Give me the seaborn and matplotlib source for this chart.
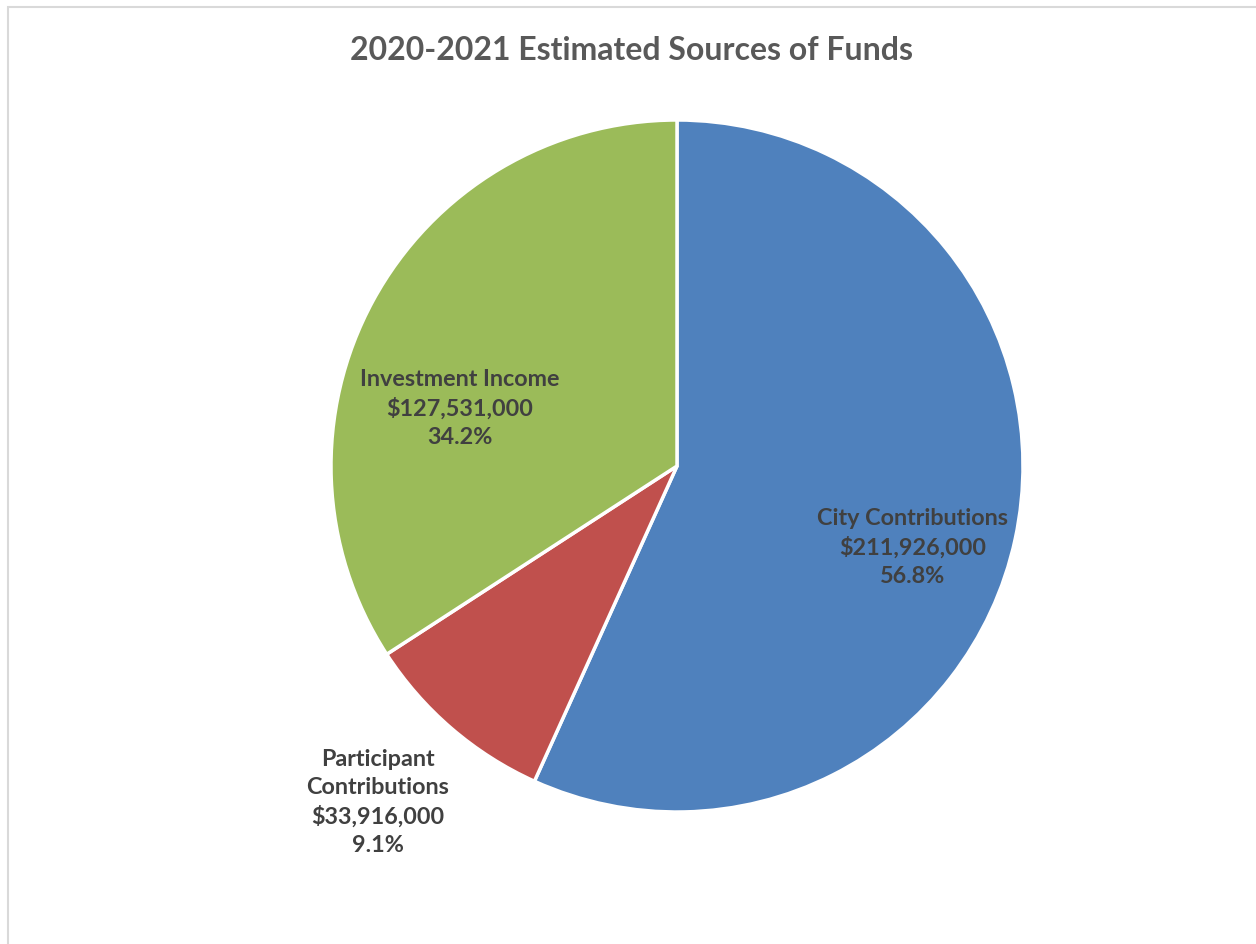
import matplotlib
matplotlib.use("Agg")
import matplotlib.pyplot as plt
from matplotlib.patches import Rectangle
import seaborn as sns

# Sources of funds, 2020-2021 estimate
sources = ["City Contributions", "Participant\nContributions", "Investment Income"]
amounts = [211926000, 33916000, 127531000]
shares = [56.8, 9.1, 34.2]
colors = ["#4F81BD", "#C0504D", "#9BBB59"]

sns.set_theme(style="white")
plt.rcParams["font.family"] = ["Lato", "DejaVu Sans"]

W, H = 1256, 945
fig = plt.figure(figsize=(W / 100, H / 100), dpi=100)
fig.patch.set_facecolor("white")

# Chart-area frame (light gray), open toward the right and bottom edges
fig.patches.append(Rectangle((8 / W, -0.1), 1.2, 1.1 - 8 / H, transform=fig.transFigure,
                             fill=False, edgecolor="#D9D9D9", linewidth=1.5))

cx, cy, R = 677, 467, 346
ax = fig.add_axes([(cx - R) / W, (H - cy - R) / H, 2 * R / W, 2 * R / H])

palette = sns.color_palette(colors)
wedges, _ = ax.pie(amounts, colors=palette, startangle=90, counterclock=False, radius=1,
                   wedgeprops=dict(edgecolor="white", linewidth=2.5))
ax.set_xlim(-1, 1)
ax.set_ylim(-1, 1)
ax.set_aspect("equal")
ax.axis("off")

label_pos = [(0.68, -0.232), (-0.864, -0.97), (-0.627, 0.17)]
for name, amt, pct, (x, y) in zip(sources, amounts, shares, label_pos):
    ax.text(x, y, f"{name}\n${amt:,.0f}\n{pct:.1f}%", ha="center", va="center",
            fontsize=16.8, fontweight="bold", color="#404040", linespacing=1.42,
            clip_on=False)

fig.text(632 / W, 1 - 50 / H, "2020-2021 Estimated Sources of Funds", ha="center", va="center",
         fontsize=23, fontweight="bold", color="#595959")

fig.savefig("out.png", dpi=100, facecolor="white")
